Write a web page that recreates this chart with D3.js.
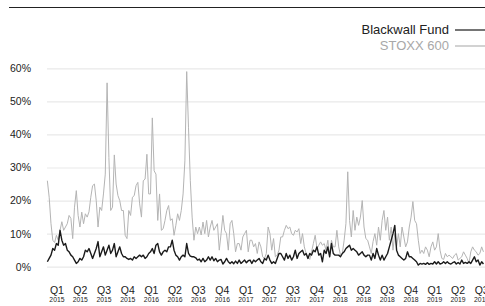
<!DOCTYPE html>
<html>
<head>
<meta charset="utf-8">
<script src="https://cdn.jsdelivr.net/npm/d3@7"></script>
<style>
  html, body { margin: 0; padding: 0; background: #fff; }
  svg { display: block; font-family: "Liberation Sans", Arial, Helvetica, sans-serif; }
</style>
</head>
<body>
<div id="chart"></div>
<script>
// weekly observations, first one on 2015-01-09
const firstWeek = "2015-01-09"

// Blackwall Fund, %
const blackwall = [
  1.5, 2.5, 3.5, 5.5, 5, 7, 6.5, 11, 8, 6.5,
  7, 5, 4.5, 3.5, 3, 2, 1, 1.5, 2.5, 2,
  3, 5, 4.5, 5.5, 4, 2.5, 4, 5.5, 7.6, 3,
  4.5, 6, 3.5, 5, 6.5, 4, 5, 7, 3, 4.5,
  6, 4, 3, 3, 2.5, 2.2, 2.5, 2, 3, 2.5,
  3, 3.5, 3, 3.5, 2.5, 3, 4, 4.5, 5.5, 4,
  6.5, 7, 4.5, 3.5, 4.5, 5, 4.5, 6, 6, 8,
  5, 3.5, 3, 2, 3, 3.5, 3, 7, 4, 3.2,
  3, 3, 2.7, 2, 2.3, 1.5, 2.5, 1.5, 2, 3,
  2, 3, 1.8, 2.5, 1.5, 2, 2.2, 0.8, 1.5, 2.5,
  1.5, 1, 1.5, 0.9, 1.7, 1, 2, 1, 1.5, 2,
  1.2, 1.8, 2, 1, 2, 1.5, 2, 2.5, 1.5, 1,
  2.5, 2, 3.5, 2, 1, 1.5, 1, 2.5, 4, 4,
  3, 2, 4, 2.5, 3.5, 2, 3, 5, 2.5, 4,
  4.5, 5, 3.5, 4, 2.5, 4, 3.5, 5, 4.5, 6,
  3.5, 4, 1.5, 5, 4, 6, 3, 7, 4, 3.5,
  3.5, 3.5, 3, 4, 4.5, 5.5, 6, 6.5, 5, 5.5,
  5, 4.5, 3.5, 4, 4.5, 3.5, 3, 3.5, 3.5, 2,
  4, 2.5, 5.5, 3.5, 2, 3.5, 2, 3, 4, 6,
  8, 10, 12.5, 5, 3.5, 3, 2.5, 2, 2.5, 4.5,
  3, 3, 2.5, 2, 1.5, 0.5, 1, 0.8, 1, 0.7,
  1.2, 0.7, 1, 0.8, 1.5, 0.8, 1.5, 0.8, 1, 1.5,
  1, 1.5, 1, 0.8, 1.2, 1.5, 0.8, 1.3, 0.8, 2,
  1, 1.3, 1, 1.5, 1, 2, 3, 1.5, 2, 0.5,
  1.5, 0.8
]

// STOXX 600, %
const stoxx = [
  26, 21, 13, 8, 7.3, 9.5, 8, 11, 13.6, 11,
  12, 13, 15.5, 14.6, 8.5, 18, 23, 15.5, 12, 16.5,
  13, 16, 15, 16.6, 21, 24.5, 25, 20, 12, 18,
  17, 22, 28, 55.6, 33, 17, 18, 33.8, 25, 21.5,
  20, 17, 17, 9.5, 8.5, 17, 15.5, 21, 21.5, 24.5,
  25.5, 19, 15, 26, 26.5, 34, 22, 22, 45, 29,
  28, 14, 22, 11, 11.5, 14, 17, 18.5, 14, 14.5,
  9.5, 12.5, 16, 14, 17, 22, 32, 59, 42, 26,
  15, 8, 12, 10, 12, 9.6, 13.5, 10, 14, 9,
  12, 14, 11, 12, 13, 5, 10, 15.5, 11, 10,
  5, 13, 14, 10, 4.5, 7, 7, 5, 9, 10,
  11, 4.5, 8, 8, 6, 7, 4, 7.5, 6, 3,
  2.5, 4, 12, 10, 5, 8.5, 3, 3.5, 5, 9,
  9, 11, 12.5, 11.5, 12, 10, 9.5, 11, 10.5, 11.5,
  7, 10, 6, 4, 3, 2.2, 4.5, 7, 9.5, 5.5,
  6.5, 7.5, 6.5, 7, 5, 8, 3, 8, 6, 6,
  11, 6, 3.5, 4, 8, 13, 28.7, 14, 9, 17,
  11, 15, 12.5, 15, 20, 12, 8.5, 8, 6, 4,
  7.6, 10, 6.5, 12, 8, 14, 17, 11, 15, 8,
  12, 5, 10, 6, 10, 6, 12, 9, 6, 7.5,
  12, 15, 19.7, 14, 13, 8, 4, 5, 4, 6,
  5, 3, 6, 7.5, 5, 6, 10, 5, 2.5, 2.2,
  4, 3, 3.5, 3, 2.5, 3.5, 4, 2, 2.5, 3,
  4.5, 3.5, 2.5, 1, 4.5, 6, 5, 4.5, 3.5, 4,
  6, 4.5
]

const seriesNames = ["Blackwall Fund", "STOXX 600"]
const seriesColors = ["#1a1a1a", "#b4b4b4"]
const yTicks = [0, 10, 20, 30, 40, 50, 60]
const quarterNames = ["Q1", "Q2", "Q3", "Q4"]

const width = 485
const height = 306
const margin = {top: 68.3, right: 0, bottom: 39.3, left: 47}

const start = new Date(firstWeek + "T00:00:00Z")
const weeks = blackwall.map((_, i) => d3.utcDay.offset(start, i * 7))

const svg = d3.select("#chart").append("svg")
  .attr("width", width)
  .attr("height", height)

// the chart is wider than the window; right side is clipped
const x = d3.scaleUtc()
  .domain([new Date(Date.UTC(2015, 0, 1)), new Date(Date.UTC(2019, 9, 1))])
  .range([45.3, 45.3 + 1734 * 0.2585])

const y = d3.scaleLinear()
  .domain([0, 60])
  .range([height - margin.bottom, margin.top])

// top rule
svg.append("line")
  .attr("x1", 9).attr("x2", width)
  .attr("y1", 7.5).attr("y2", 7.5)
  .attr("stroke", "#222")
  .attr("stroke-width", 1.2)

const yAxis = g => g
  .attr("transform", `translate(${margin.left}, 0)`)
  .call(d3.axisLeft(y)
    .tickValues(yTicks)
    .tickFormat(d => d + "%")
    .tickSize(-(width - margin.left))
    .tickPadding(16))
  .call(g => g.select(".domain").remove())
  .call(g => g.selectAll(".tick line")
    .attr("stroke", "#e9e9e9")
    .attr("stroke-width", 1.2))
  .call(g => g.selectAll(".tick text")
    .attr("fill", "#222")
    .attr("font-size", 10.5))

svg.append("g").call(yAxis).attr("font-family", null)

// quarter labels at the middle of each quarter
const quarters = d3.utcMonth.every(3).range(new Date(Date.UTC(2015, 0, 1)), new Date(Date.UTC(2019, 9, 1)))
const quarterMid = quarters.map(q => new Date((+q + +d3.utcMonth.offset(q, 3)) / 2))

const xLabels = svg.append("g")
  .selectAll("g")
  .data(quarterMid)
  .join("g")
  .attr("transform", d => `translate(${x(d)}, 0)`)
  .attr("text-anchor", "middle")
  .attr("fill", "#222")

xLabels.append("text")
  .attr("y", 294)
  .attr("font-size", 10.5)
  .text(d => quarterNames[Math.floor(d.getUTCMonth() / 3)])

xLabels.append("text")
  .attr("y", 302)
  .attr("font-size", 6.8)
  .text(d => d.getUTCFullYear())

const line = d3.line()
  .x((d, i) => x(weeks[i]))
  .y(d => y(d))

svg.append("path")
  .datum(stoxx)
  .attr("fill", "none")
  .attr("stroke", seriesColors[1])
  .attr("stroke-width", 1)
  .attr("stroke-linejoin", "round")
  .attr("d", line)

svg.append("path")
  .datum(blackwall)
  .attr("fill", "none")
  .attr("stroke", seriesColors[0])
  .attr("stroke-width", 1.4)
  .attr("stroke-linejoin", "round")
  .attr("d", line)

// legend
const legend = svg.append("g")
  .selectAll("g")
  .data(seriesNames)
  .join("g")
  .attr("transform", (d, i) => `translate(0, ${30 + i * 16})`)

legend.append("text")
  .attr("x", 449)
  .attr("y", 4)
  .attr("text-anchor", "end")
  .attr("font-size", 13)
  .attr("fill", (d, i) => i ? "#a8a8a8" : "#222")
  .text(d => d)

legend.append("line")
  .attr("x1", 455).attr("x2", width)
  .attr("stroke", (d, i) => seriesColors[i])
  .attr("stroke-width", 1.2)
</script>
</body>
</html>
